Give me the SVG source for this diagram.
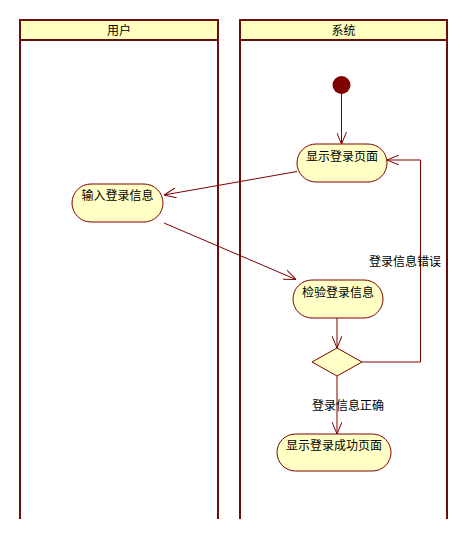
<svg xmlns="http://www.w3.org/2000/svg" width="468" height="539" viewBox="0 0 468 539">
<style>
.lane{fill:none;stroke:#6b0d0d;stroke-width:2}
.hdr{fill:#ffffc0;stroke:#6b0d0d;stroke-width:2}
.node{fill:#ffffc6;stroke:#800000;stroke-width:1}
.edge{fill:none;stroke:#800000;stroke-width:1}
text{font-family:"Noto Sans CJK SC","Liberation Sans",sans-serif;font-size:12px;fill:#000}
</style>
<defs>
<marker id="arr" viewBox="0 0 12 10" refX="12" refY="5" markerWidth="12" markerHeight="10" markerUnits="userSpaceOnUse" orient="auto">
<path d="M0,0 L12,5 L0,10" fill="none" stroke="#800000" stroke-width="1"/>
</marker>
</defs>
<g id="lane-user">
<rect class="hdr" x="20" y="20" width="198" height="20"/>
<path class="lane" d="M20,40 V519 M218,40 V519"/>
<text x="119" y="35" text-anchor="middle">用户</text>
</g>
<g id="lane-system">
<rect class="hdr" x="240" y="20" width="207" height="20"/>
<path class="lane" d="M240,40 V519 M447,40 V519"/>
<text x="343.5" y="35" text-anchor="middle">系统</text>
</g>
<g id="start">
<circle cx="341.5" cy="85" r="9" fill="#800000"/>
</g>
<g id="show-login">
<rect class="node" x="297" y="144" width="90" height="38" rx="19" ry="19"/>
<text x="342" y="161" text-anchor="middle">显示登录页面</text>
</g>
<g id="input-info">
<rect class="node" x="72" y="184" width="91" height="38" rx="19" ry="19"/>
<text x="117.5" y="200" text-anchor="middle">输入登录信息</text>
</g>
<g id="check-info">
<rect class="node" x="293" y="280" width="90" height="38" rx="19" ry="19"/>
<text x="338" y="297" text-anchor="middle">检验登录信息</text>
</g>
<g id="decision">
<polygon class="node" points="337,348 362,362 337,376 312,362"/>
</g>
<g id="show-success">
<rect class="node" x="277" y="434" width="114" height="37" rx="18.5" ry="18.5"/>
<text x="334" y="450" text-anchor="middle">显示登录成功页面</text>
</g>
<g id="connectors">
<path class="edge" d="M341.5,94 V144" marker-end="url(#arr)"/>
<path class="edge" d="M297,171.5 L164,195" marker-end="url(#arr)"/>
<path class="edge" d="M164,223 L296,279.5" marker-end="url(#arr)"/>
<path class="edge" d="M337,318 V348" marker-end="url(#arr)"/>
<path class="edge" d="M362,362 H420.5 V160 H387" marker-end="url(#arr)"/>
<path class="edge" d="M337,376 V434" marker-end="url(#arr)"/>
<text x="369" y="266">登录信息错误</text>
<text x="312" y="410">登录信息正确</text>
</g>
</svg>
